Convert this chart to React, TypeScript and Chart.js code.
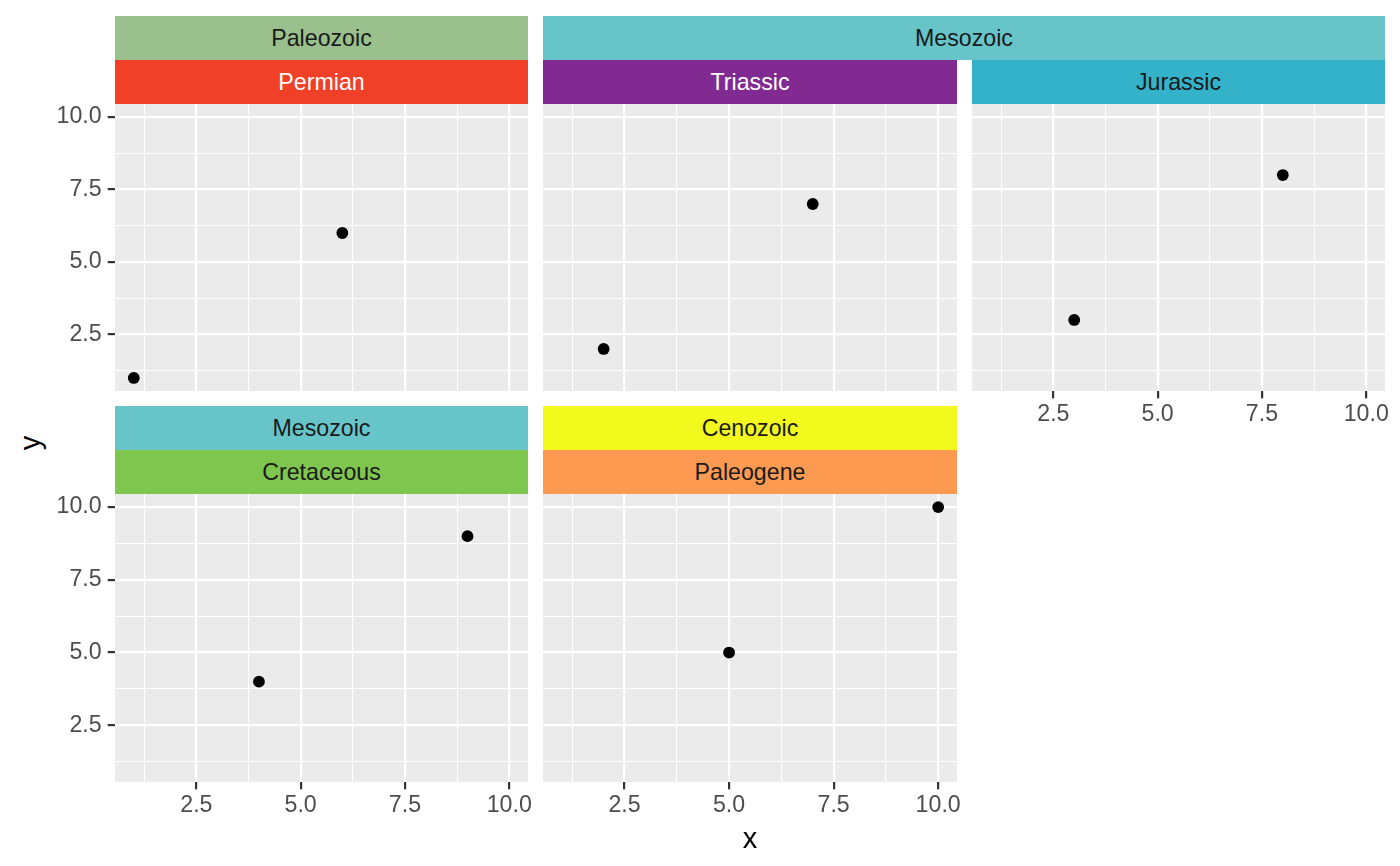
import React, { useEffect, useRef } from 'react';
import { Chart, registerables } from 'chart.js';

Chart.register(...registerables);

// ---- data ----
const xValues = [1, 2, 3, 4, 5, 6, 7, 8, 9, 10];
const yValues = [1, 2, 3, 4, 5, 6, 7, 8, 9, 10];
const pointPeriods = ['Permian', 'Triassic', 'Jurassic', 'Cretaceous', 'Paleogene', 'Permian', 'Triassic', 'Jurassic', 'Cretaceous', 'Paleogene'];
const periods = ['Permian', 'Triassic', 'Jurassic', 'Cretaceous', 'Paleogene'];
const periodEras = ['Paleozoic', 'Mesozoic', 'Mesozoic', 'Mesozoic', 'Cenozoic'];
const periodColors = ['#F04028', '#812B92', '#34B2C9', '#7FC64E', '#FD9A52'];
const periodTextColors = ['#FFFFFF', '#FFFFFF', '#1A1A1A', '#1A1A1A', '#1A1A1A'];
const eraNames = ['Paleozoic', 'Mesozoic', 'Cenozoic'];
const eraColors = ['#99C08D', '#67C5CA', '#F2F91D'];
const eraTextColors = ['#1A1A1A', '#1A1A1A', '#1A1A1A'];
const majorTicks = [2.5, 5, 7.5, 10];
const minorTicks = [1.25, 3.75, 6.25, 8.75];
const axisMin = 0.55;
const axisMax = 10.45;
const xTitle = 'x';
const yTitle = 'y';

// ---- layout ----
const FONT = '"Liberation Sans", Arial, Helvetica, sans-serif';
const NCOL = 3;
const COL_LEFT = [115, 543, 972];
const COL_W = [413, 414, 413];
const ROW_TOP = [104, 494];
const ROW_H = [287, 288];
const STRIP_H = 44;
const Y_AX_W = 80;
const X_AX_H = 42;
const EXTRA_R = 14;
const TICK_LEN = 7.3;
const TEXT_SIZE = 23.2;
const TITLE_SIZE = 29;

const allTicks = [...minorTicks, ...majorTicks].sort((a, b) => a - b);
const isMajor = (v: number) => majorTicks.some((m) => Math.abs(m - v) < 1e-9);

const bgPlugin = {
  id: 'panelBg',
  beforeDraw(chart: any) {
    const { ctx, chartArea: a } = chart;
    ctx.save();
    ctx.fillStyle = '#EBEBEB';
    ctx.fillRect(a.left, a.top, a.right - a.left, a.bottom - a.top);
    ctx.restore();
  },
};

function axisOptions(showLabels: boolean, isX: boolean) {
  return {
    type: 'linear',
    min: axisMin,
    max: axisMax,
    bounds: 'data',
    afterBuildTicks: (s: any) => {
      s.ticks = allTicks.map((v) => ({ value: v }));
    },
    afterFit: (s: any) => {
      if (isX) s.height = showLabels ? X_AX_H : 0;
      else s.width = showLabels ? Y_AX_W : 0;
      s.paddingTop = 0;
      s.paddingBottom = 0;
      s.paddingLeft = 0;
      s.paddingRight = 0;
    },
    border: { display: false },
    grid: {
      color: '#FFFFFF',
      lineWidth: (c: any) => (c.tick && isMajor(c.tick.value) ? 2.2 : 1.1),
      drawTicks: showLabels,
      tickLength: TICK_LEN,
      tickWidth: 2.2,
      tickColor: (c: any) => (c.tick && isMajor(c.tick.value) ? '#333333' : 'rgba(0,0,0,0)'),
    },
    ticks: {
      display: showLabels,
      autoSkip: false,
      maxRotation: 0,
      minRotation: 0,
      padding: isX ? 2 : 6,
      color: '#4D4D4D',
      font: { family: FONT, size: TEXT_SIZE },
      callback: (v: any) => (isMajor(Number(v)) ? Number(v).toFixed(1) : ''),
    },
  };
}

function Panel({ idx }: { idx: number }) {
  const ref = useRef<HTMLCanvasElement>(null);
  const row = Math.floor(idx / NCOL);
  const col = idx % NCOL;
  const showY = col === 0;
  const showX = idx + NCOL >= periods.length;
  const extraR = showX ? EXTRA_R : 0;
  const left = COL_LEFT[col] - (showY ? Y_AX_W : 0);
  const top = ROW_TOP[row];
  const w = COL_W[col] + (showY ? Y_AX_W : 0) + extraR;
  const h = ROW_H[row] + (showX ? X_AX_H : 0);

  useEffect(() => {
    const period = periods[idx];
    const pts = xValues
      .map((x, i) => ({ x, y: yValues[i], p: pointPeriods[i] }))
      .filter((d) => d.p === period)
      .map((d) => ({ x: d.x, y: d.y }));
    const chart = new Chart(ref.current as HTMLCanvasElement, {
      type: 'scatter',
      data: {
        datasets: [
          {
            data: pts,
            backgroundColor: '#000000',
            borderWidth: 0,
            pointRadius: 5.9,
            pointHoverRadius: 5.9,
          },
        ],
      },
      options: {
        animation: false,
        responsive: false,
        maintainAspectRatio: false,
        events: [],
        layout: { padding: { left: 0, top: 0, bottom: 0, right: extraR }, autoPadding: false },
        plugins: { legend: { display: false }, tooltip: { enabled: false } },
        scales: {
          x: axisOptions(showX, true),
          y: axisOptions(showY, false),
        },
      } as any,
      plugins: [bgPlugin],
    });
    return () => chart.destroy();
  }, [idx]);

  return (
    <canvas
      ref={ref}
      width={w}
      height={h}
      style={{ position: 'absolute', left, top, width: w, height: h }}
    />
  );
}

function Strip({ left, top, width, label, bg, color }: any) {
  return (
    <div
      style={{
        position: 'absolute',
        left,
        top,
        width,
        height: STRIP_H,
        background: bg,
        color,
        fontFamily: FONT,
        fontSize: TEXT_SIZE,
        lineHeight: `${STRIP_H}px`,
        textAlign: 'center',
        whiteSpace: 'nowrap',
      }}
    >
      {label}
    </div>
  );
}

export default function App() {
  const strips: any[] = [];
  const nRows = Math.ceil(periods.length / NCOL);
  for (let r = 0; r < nRows; r++) {
    const rowIdx = periods.map((_, i) => i).filter((i) => Math.floor(i / NCOL) === r);
    let start = 0;
    while (start < rowIdx.length) {
      let end = start;
      while (end + 1 < rowIdx.length && periodEras[rowIdx[end + 1]] === periodEras[rowIdx[start]]) end++;
      const c0 = rowIdx[start] % NCOL;
      const c1 = rowIdx[end] % NCOL;
      const era = periodEras[rowIdx[start]];
      const ei = eraNames.indexOf(era);
      strips.push(
        <Strip
          key={`era-${r}-${start}`}
          left={COL_LEFT[c0]}
          top={ROW_TOP[r] - 2 * STRIP_H}
          width={COL_LEFT[c1] + COL_W[c1] - COL_LEFT[c0]}
          label={era}
          bg={eraColors[ei]}
          color={eraTextColors[ei]}
        />
      );
      start = end + 1;
    }
    rowIdx.forEach((i) => {
      const c = i % NCOL;
      strips.push(
        <Strip
          key={`per-${i}`}
          left={COL_LEFT[c]}
          top={ROW_TOP[r] - STRIP_H}
          width={COL_W[c]}
          label={periods[i]}
          bg={periodColors[i]}
          color={periodTextColors[i]}
        />
      );
    });
  }

  return (
    <div style={{ position: 'absolute', left: 0, top: 0, width: 1400, height: 866, background: '#FFFFFF', overflow: 'hidden' }}>
      {strips}
      {periods.map((_, i) => (
        <Panel key={i} idx={i} />
      ))}
      <div
        style={{
          position: 'absolute',
          left: 750,
          top: 838,
          transform: 'translate(-50%, -50%)',
          fontFamily: FONT,
          fontSize: TITLE_SIZE,
          color: '#000000',
          lineHeight: 1,
        }}
      >
        {xTitle}
      </div>
      <div
        style={{
          position: 'absolute',
          left: 30,
          top: 443,
          transform: 'translate(-50%, -50%) rotate(-90deg)',
          fontFamily: FONT,
          fontSize: TITLE_SIZE,
          color: '#000000',
          lineHeight: 1,
        }}
      >
        {yTitle}
      </div>
    </div>
  );
}
